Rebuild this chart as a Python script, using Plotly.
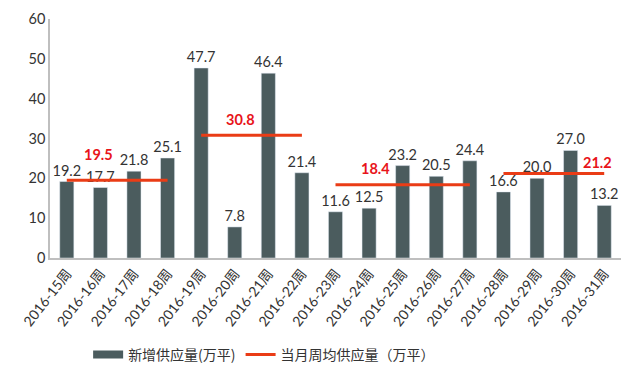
import plotly.graph_objects as go

weeks = ["2016-15周", "2016-16周", "2016-17周", "2016-18周", "2016-19周", "2016-20周",
         "2016-21周", "2016-22周", "2016-23周", "2016-24周", "2016-25周", "2016-26周",
         "2016-27周", "2016-28周", "2016-29周", "2016-30周", "2016-31周"]
supply = [19.2, 17.7, 21.8, 25.1, 47.7, 7.8, 46.4, 21.4, 11.6, 12.5, 23.2, 20.5,
          24.4, 16.6, 20.0, 27.0, 13.2]

month_start = ["2016-15周", "2016-19周", "2016-23周", "2016-28周"]
month_end = ["2016-18周", "2016-22周", "2016-27周", "2016-31周"]
month_avg = [19.5, 30.8, 18.4, 21.2]
avg_label_week = ["2016-16周", "2016-20周", "2016-24周", "2016-31周"]
avg_label_xshift = [-2, 6, 6, -7]
avg_label_yshift = [26, 16, 16, 11]

bar_name = "新增供应量(万平)"
line_name = "当月周均供应量（万平）"

BAR_COLOR = "#4b5c5e"
LINE_COLOR = "#ea3c16"
FONT = "Lato, Noto Sans CJK SC, sans-serif"

fig = go.Figure()
fig.add_trace(go.Bar(
    x=weeks, y=supply, name=bar_name, marker_color=BAR_COLOR, width=0.42,
    text=[f"{v:.1f}" for v in supply], textposition="outside", constraintext="none",
    outsidetextfont=dict(size=14.5, color="#333333", family=FONT), cliponaxis=False,
    showlegend=False,
))
# legend proxy so the bar series shows a wide rectangle swatch
fig.add_trace(go.Scatter(
    x=[None], y=[None], mode="lines", name=bar_name,
    line=dict(color=BAR_COLOR, width=8), showlegend=True,
))
for i, (s, e, v) in enumerate(zip(month_start, month_end, month_avg)):
    fig.add_trace(go.Scatter(
        x=[s, e], y=[v, v], mode="lines", name=line_name,
        line=dict(color=LINE_COLOR, width=3), showlegend=(i == 0),
    ))
for w, v, xs, ys in zip(avg_label_week, month_avg, avg_label_xshift, avg_label_yshift):
    fig.add_annotation(x=w, y=v, text=f"<b>{v:.1f}</b>", showarrow=False,
                       yshift=ys, xshift=xs,
                       font=dict(size=14.5, color="#e8141a", family=FONT))

# the page body has an 8px default margin, so the figure is sized to fit inside it
fig.update_layout(
    width=624, height=367, margin=dict(l=42, r=11, t=11, b=117, autoexpand=False),
    paper_bgcolor="white", plot_bgcolor="white",
    font=dict(family=FONT, color="#333333"),
    legend=dict(orientation="h", x=0.375, xanchor="center", y=-0.405, yanchor="middle",
                font=dict(size=14, color="#333333", family="Noto Sans CJK SC, sans-serif")),
    xaxis=dict(type="category", tickangle=-52, showline=True, linecolor="#bfbfbf",
               linewidth=1.5, ticks="", automargin=False,
               tickfont=dict(size=14, color="#333333")),
    yaxis=dict(range=[0, 60], dtick=10, showgrid=False, showline=True,
               linecolor="#bfbfbf", linewidth=1.5, ticks="", zeroline=False,
               automargin=False, tickfont=dict(size=14.5, color="#333333")),
)
fig.write_html("out.html")
